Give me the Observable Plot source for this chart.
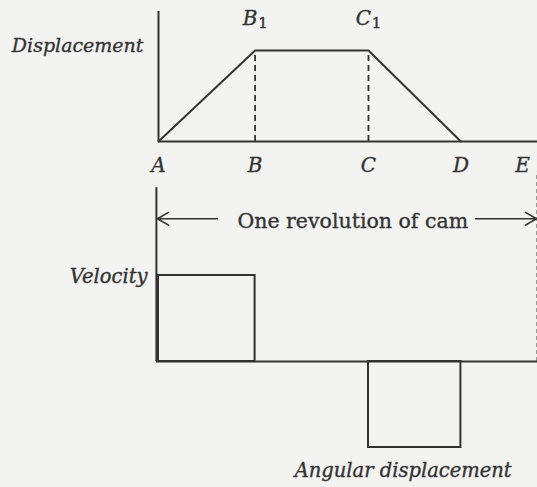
<!DOCTYPE html>
<html><head><meta charset="utf-8">
<script src="https://cdn.jsdelivr.net/npm/d3@7"></script>
<script src="https://cdn.jsdelivr.net/npm/@observablehq/plot@0.6"></script>
<style>
body{margin:0;background:#f3f3f1;}
#c{width:537px;height:487px;position:relative;overflow:hidden;}
#c svg{display:block;}
</style></head><body><div id="c"></div>
<script>
// Cam diagram: angular positions (degrees of one revolution)
const pointLabels = ["A", "B", "C", "D", "E"];
const pointAngles = [0, 92, 200, 288, 360];
const displacement = [0, 1, 1, 0];          // at A, B, C, D
const velocity = [1, 0, -1, 0];             // over AB, BC, CD, DE
const peakLabels = ["B", "C"];
const peakSubscripts = ["1", "1"];
const peakAngles = [92, 200];
const axisTitles = ["Displacement", "Velocity", "Angular displacement"];
const spanLabel = "One revolution of cam";

const ink = "#333333";
const serif = "DejaVu Serif";
const xScale = {domain: [0, 360], range: [158, 536], axis: null};
const italic = {fontFamily: serif, fontStyle: "italic", fill: ink, stroke: ink, strokeWidth: 0.35};
const upright = {fontFamily: serif, fill: ink, stroke: ink, strokeWidth: 0.35};

const dispPts = displacement.map((d, i) => ({x: pointAngles[i], y: d}));
const velSegs = velocity.map((v, i) => ({x1: pointAngles[i], x2: pointAngles[i + 1], v}));
const letters = pointLabels.map((l, i) => ({l, x: pointAngles[i]})).filter(d => d.l !== "E");
const lastLetter = [{l: pointLabels[4], x: pointAngles[4]}];
const peaks = peakLabels.map((l, i) => ({l, s: peakSubscripts[i], x: peakAngles[i], y: 1}));

const topPlot = Plot.plot({
  width: 537, height: 180, margin: 0,
  style: {background: "transparent", overflow: "visible", color: ink},
  x: xScale,
  y: {domain: [0, 1], range: [141, 50], axis: null},
  marks: [
    Plot.ruleX([{x: 0, y1: 0, y2: 1.43}], {x: "x", y1: "y1", y2: "y2", stroke: ink, strokeWidth: 2}),
    Plot.ruleY([{y: 0, x1: 0, x2: 362}], {y: "y", x1: "x1", x2: "x2", stroke: ink, strokeWidth: 2}),
    Plot.ruleX(peaks, {x: "x", y1: () => 0, y2: "y", stroke: ink, strokeWidth: 1.8, strokeDasharray: "6,4"}),
    Plot.line(dispPts, {x: "x", y: "y", stroke: ink, strokeWidth: 2}),
    Plot.text(letters, {x: "x", y: () => 0, text: "l", dy: 24.5, fontSize: 20, ...italic}),
    Plot.text(lastLetter, {x: "x", y: () => 0, text: "l", dy: 24.5, dx: -14, fontSize: 20, ...italic}),
    Plot.text(peaks, {x: "x", y: "y", text: "l", dy: -32, dx: -5, fontSize: 20, ...italic}),
    Plot.text(peaks, {x: "x", y: "y", text: "s", dy: -27, dx: 8, fontSize: 15, ...upright}),
    Plot.text([axisTitles[0]], {x: () => 0, y: () => 1, text: d => d, dx: -15, dy: -5, textAnchor: "end", fontSize: 19, ...italic})
  ]
});

const bottomPlot = Plot.plot({
  width: 537, height: 307, margin: 0,
  style: {background: "transparent", overflow: "visible", color: ink},
  x: xScale,
  y: {domain: [-1, 1], range: [267, 95], axis: null},
  marks: [
    Plot.ruleX([{x: 360, y1: 0, y2: 2.2}], {x: "x", y1: "y1", y2: "y2", stroke: "#999", strokeWidth: 1, strokeDasharray: "4,3"}),
    Plot.ruleX([{x: -2, y1: 0, y2: 2.02}], {x: "x", y1: "y1", y2: "y2", stroke: ink, strokeWidth: 2}),
    Plot.ruleY([{y: 0, x1: -2, x2: 362}], {y: "y", x1: "x1", x2: "x2", stroke: ink, strokeWidth: 2}),
    Plot.rect(velSegs.filter(d => d.v !== 0), {x1: "x1", x2: "x2", y1: () => 0, y2: "v", fill: "none", stroke: ink, strokeWidth: 2}),
    Plot.arrow([{x1: 56, x2: -1, y: 1.66}, {x1: 302, x2: 360, y: 1.66}], {x1: "x1", x2: "x2", y1: "y", y2: "y", stroke: ink, strokeWidth: 1.6, headLength: 12, bend: 0}),
    Plot.text([spanLabel], {x: () => 185, y: () => 1.66, text: d => d, dy: 3, fontSize: 20.5, ...upright}),
    Plot.text([axisTitles[1]], {x: () => 0, y: () => 1, text: d => d, dx: -11, dy: 1, textAnchor: "end", fontSize: 19.5, ...italic}),
    Plot.text([axisTitles[2]], {x: () => 233, y: () => -1.27, text: d => d, fontSize: 19.5, ...italic})
  ]
});

const c = document.getElementById("c");
c.appendChild(topPlot);
c.appendChild(bottomPlot);
</script></body></html>
